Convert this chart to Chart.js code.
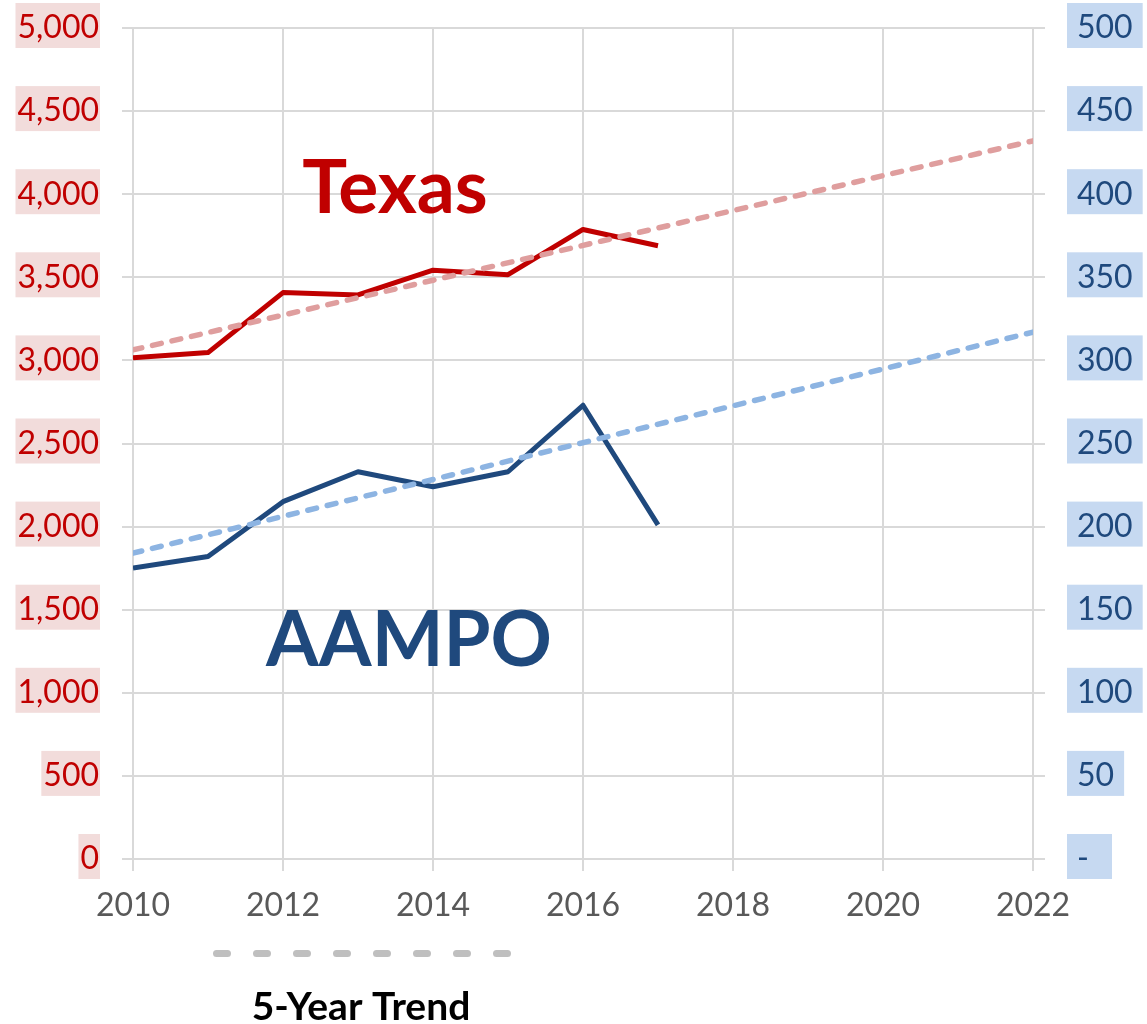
<!DOCTYPE html>
<html>
<head>
<meta charset="utf-8">
<script src="https://cdn.jsdelivr.net/npm/chart.js@4"></script>
<style>
    body { margin: 0; background: #ffffff; }
    #wrap { position: relative; width: 1147px; height: 1024px; }
</style>
</head>
<body>
<div id="wrap"><canvas id="trendChart" width="1147" height="1024"></canvas></div>
<script>
// values
const years = [2010, 2011, 2012, 2013, 2014, 2015, 2016, 2017];
const texas = [3016, 3047, 3408, 3394, 3543, 3516, 3788, 3690];
const aampo = [175, 182, 215, 233, 224, 233, 273, 201];

const trendYears = [2010, 2022];
const texasTrend = [3063, 4321];
const aampoTrend = [184, 317];

const xTicks = [2010, 2012, 2014, 2016, 2018, 2020, 2022];
const leftTicks = [0, 500, 1000, 1500, 2000, 2500, 3000, 3500, 4000, 4500, 5000];
const rightTicks = [0, 50, 100, 150, 200, 250, 300, 350, 400, 450, 500];

const RED = '#c00000';
const BLUE = '#1f497d';
const GRID = '#d9d9d9';
const TICK_FONT = 32;

function toPoints(xs, ys) {
    return xs.map(function (x, i) { return { x: x, y: ys[i] }; });
}

// pink / blue boxes behind the axis labels
const labelBoxes = {
    id: 'labelBoxes',
    beforeDraw: function (chart) {
        const ctx = chart.ctx;
        const area = chart.chartArea;
        const yl = chart.scales.y;
        const yr = chart.scales.y1;
        ctx.save();
        ctx.font = TICK_FONT + 'px Lato';

        ctx.fillStyle = '#f2dcdb';
        yl.ticks.forEach(function (t, i) {
            const y = yl.getPixelForTick(i);
            const w = ctx.measureText(t.label).width;
            const xr = area.left - 11 - 23 + 1;
            ctx.fillRect(xr - w - 3, y - 25, w + 3, 45);
        });

        ctx.fillStyle = '#c6d9f1';
        yr.ticks.forEach(function (t, i) {
            const y = yr.getPixelForTick(i);
            const w = ctx.measureText(t.label).width;
            const xl = area.right + 12 + 32 - 10;
            ctx.fillRect(xl, y - 25, Math.max(w, 25) + 20, 45);
        });
        ctx.restore();
    }
};

// big series names and the trend key under the axis
const annotations = {
    id: 'annotations',
    afterDraw: function (chart) {
        const ctx = chart.ctx;
        ctx.save();
        ctx.textAlign = 'center';
        ctx.textBaseline = 'alphabetic';

        ctx.fillStyle = RED;
        ctx.font = 'bold 75px Lato';
        ctx.fillText('Texas', 395, 213);

        ctx.fillStyle = BLUE;
        ctx.font = 'bold 76px Lato';
        ctx.fillText('AAMPO', 409, 666);

        ctx.strokeStyle = '#bfbfbf';
        ctx.lineWidth = 7;
        ctx.lineCap = 'round';
        ctx.setLineDash([11, 29]);
        ctx.beginPath();
        ctx.moveTo(216.5, 953.5);
        ctx.lineTo(510, 953.5);
        ctx.stroke();
        ctx.setLineDash([]);

        ctx.fillStyle = '#000000';
        ctx.font = 'bold 39px Lato';
        ctx.fillText('5-Year Trend', 361, 1020);
        ctx.restore();
    }
};

function noLabelOverflow(scale) {
    scale.paddingTop = 0;
    scale.paddingBottom = 0;
}

function LoadTrendChart() {
    Chart.defaults.font.family = 'Lato';
    const ctx = document.getElementById('trendChart').getContext('2d');

    new Chart(ctx, {
        type: 'line',
        data: {
            datasets: [{
                label: 'Texas trend',
                data: toPoints(trendYears, texasTrend),
                yAxisID: 'y',
                borderColor: '#df9e9e',
                borderWidth: 5.5,
                borderDash: [9, 11],
                borderCapStyle: 'round',
                pointRadius: 0
            }, {
                label: 'AAMPO trend',
                data: toPoints(trendYears, aampoTrend),
                yAxisID: 'y1',
                borderColor: '#8db4e2',
                borderWidth: 5.5,
                borderDash: [9, 11],
                borderCapStyle: 'round',
                pointRadius: 0
            }, {
                label: 'Texas',
                data: toPoints(years, texas),
                yAxisID: 'y',
                borderColor: RED,
                borderWidth: 5,
                borderJoinStyle: 'round',
                pointRadius: 0
            }, {
                label: 'AAMPO',
                data: toPoints(years, aampo),
                yAxisID: 'y1',
                borderColor: BLUE,
                borderWidth: 5,
                borderJoinStyle: 'round',
                pointRadius: 0
            }]
        },
        options: {
            responsive: false,
            animation: false,
            events: [],
            layout: { padding: { top: 28, left: 0, right: 0, bottom: 0 } },
            plugins: {
                legend: { display: false },
                tooltip: { enabled: false }
            },
            scales: {
                x: {
                    type: 'linear',
                    min: xTicks[0],
                    max: xTicks[xTicks.length - 1],
                    afterBuildTicks: function (scale) {
                        scale.ticks = xTicks.map(function (v) { return { value: v }; });
                    },
                    afterFit: function (scale) { scale.height = 165; },
                    grid: { color: GRID, lineWidth: 2, tickLength: 12 },
                    border: { color: GRID, width: 2 },
                    ticks: {
                        autoSkip: false,
                        maxRotation: 0,
                        padding: 15,
                        color: '#595959',
                        font: { size: TICK_FONT },
                        callback: function (v) { return String(v); }
                    }
                },
                y: {
                    position: 'left',
                    min: leftTicks[0],
                    max: leftTicks[leftTicks.length - 1],
                    afterBuildTicks: function (scale) {
                        scale.ticks = leftTicks.map(function (v) { return { value: v }; });
                    },
                    afterFit: function (scale) { scale.width = 133; noLabelOverflow(scale); },
                    grid: { color: GRID, lineWidth: 2, tickLength: 11 },
                    border: { color: GRID, width: 2 },
                    ticks: {
                        padding: 23,
                        color: RED,
                        font: { size: TICK_FONT },
                        callback: function (v) { return v.toLocaleString('en-US'); }
                    }
                },
                y1: {
                    position: 'right',
                    min: rightTicks[0],
                    max: rightTicks[rightTicks.length - 1],
                    afterBuildTicks: function (scale) {
                        scale.ticks = rightTicks.map(function (v) { return { value: v }; });
                    },
                    afterFit: function (scale) { scale.width = 114; noLabelOverflow(scale); },
                    grid: { color: GRID, lineWidth: 2, tickLength: 12, drawOnChartArea: false },
                    border: { color: GRID, width: 2 },
                    ticks: {
                        padding: 32,
                        color: BLUE,
                        font: { size: TICK_FONT },
                        callback: function (v) { return v === 0 ? '-' : String(v); }
                    }
                }
            }
        },
        plugins: [labelBoxes, annotations]
    });
}

LoadTrendChart();
</script>
</body>
</html>
